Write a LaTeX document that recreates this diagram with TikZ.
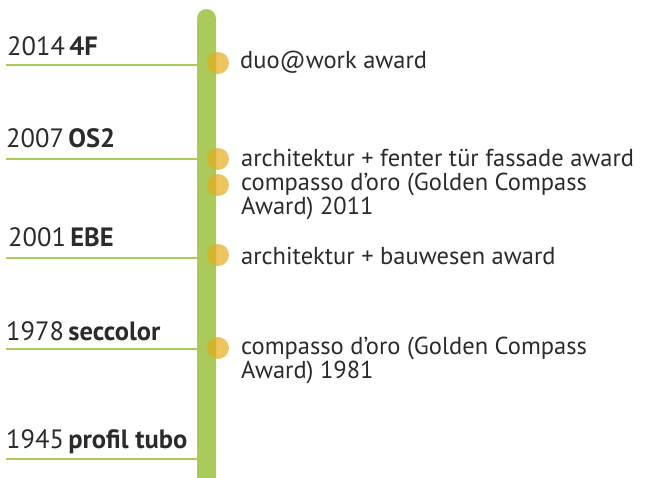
\documentclass[tikz,border=0pt]{standalone}
\usepackage{fontspec}
\setmainfont{PT Sans}
\definecolor{barGreen}{HTML}{AACA5A}
\definecolor{dotYellow}{HTML}{E5AC1A}
\definecolor{txtGrey}{HTML}{2B2B2B}
\begin{document}
\begin{tikzpicture}[x=1pt,y=-1pt,
  year/.style={anchor=base west,inner sep=0,text=txtGrey,font=\fontsize{26.5}{28}\selectfont},
  award/.style={anchor=base west,inner sep=0,text=txtGrey,align=left,font=\fontsize{24.5}{23.5}\selectfont},
  dot/.style={circle,fill=dotYellow,fill opacity=0.7,inner sep=0,minimum size=22},
  tick/.style={draw=barGreen,line width=2}]
\useasboundingbox (0,0) rectangle (651,477);
\node[fill=barGreen,rounded corners=9.5,minimum width=19,minimum height=480,inner sep=0] (bar) at (206.5,249) {};

\coordinate (t2014) at (6,65);
\coordinate (t2007) at (6,159);
\coordinate (t2001) at (6,258);
\coordinate (t1978) at (6,349);
\coordinate (t1945) at (6,459);

\path[tick] (t2014) -- (t2014 -| bar.west);
\path[tick] (t2007) -- (t2007 -| bar.west);
\path[tick] (t2001) -- (t2001 -| bar.west);
\path[tick] (t1978) -- (t1978 -| bar.west);
\path[tick] (t1945) -- (t1945 -| bar.west);

% years and products, left of the bar
\node[year] (y2014) at (7,55) {2014\,\textbf{4F}};
\node[year] (y2007) at (6,147) {2007\,\textbf{OS2}};
\node[year] (y2001) at (8,246) {2001\,\textbf{EBE}};
\node[year] (y1978) at (6,340) {1978\,\textbf{seccolor}};
\node[year] (y1945) at (6,448) {1945\,\textbf{profil tubo}};

\node[dot] (d2014) at (218,63) {};
\node[dot] (d2007a) at (218,159) {};
\node[dot] (d2007b) at (218,185) {};
\node[dot] (d2001) at (218,255) {};
\node[dot] (d1978) at (218,348) {};

% awards, right of the bar
\node[award] (a2014) at (240,68) {duo@work award};
\node[award] (a2007a) at (241,166) {architektur + fenter tür fassade award};
\node[award] (a2007b) at (241,214) {compasso d’oro (Golden Compass\\Award) 2011};
\node[award] (a2001) at (241,264) {architektur + bauwesen award};
\node[award] (a1978) at (241,378) {compasso d’oro (Golden Compass\\Award) 1981};
\end{tikzpicture}
\end{document}
